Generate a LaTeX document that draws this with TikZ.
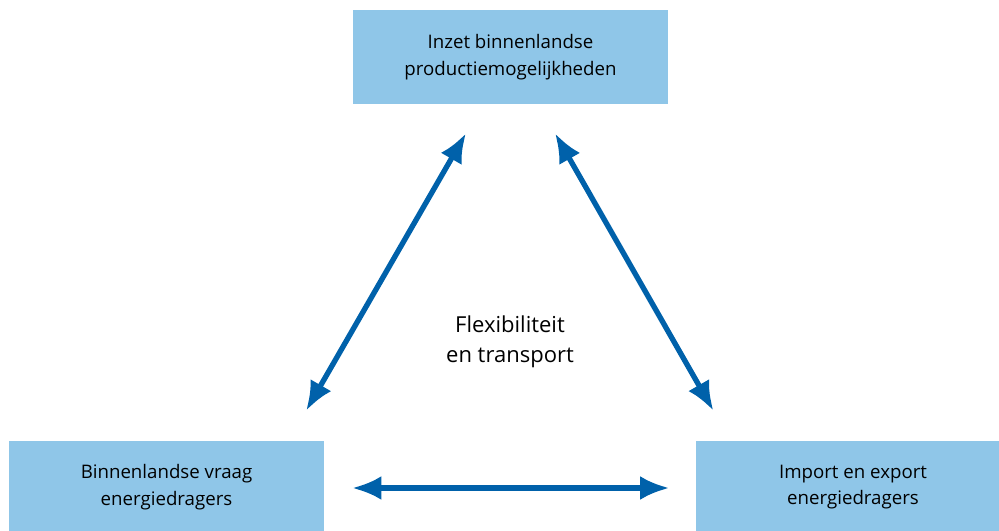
\documentclass[tikz,border=0pt]{standalone}
\usepackage{fontspec}
\setmainfont{Open Sans}
\usetikzlibrary{arrows.meta,calc}
\definecolor{boxblue}{HTML}{8FC6E8}
\definecolor{arrowblue}{HTML}{0061AA}

\begin{document}
\begin{tikzpicture}[x=0.75pt,y=-0.75pt,
  box/.style={fill=boxblue,minimum width=236pt,minimum height=70.5pt,inner sep=0pt,align=center,font=\fontsize{14}{20}\selectfont},
  link/.style={{Latex[length=22pt,width=18pt]}-{Latex[length=22pt,width=18pt]},line width=4pt,arrowblue}]
  \path[use as bounding box,clip] (0,0) rectangle (999,531);

  \node[box] (top) at (510.5,57) {Inzet binnenlandse\\productiemogelijkheden};
  \node[box,minimum height=69pt] (lbox) at (166.5,487) {Binnenlandse vraag\\energiedragers};
  \node[box,minimum height=69pt] (rbox) at (853,487) {Import en export\\energiedragers};
  \node[font=\fontsize{16.5}{22.5}\selectfont,align=center] (flex) at (510,342) {Flexibiliteit\\en transport};

  \draw[link] ($(top.south)+(-44.5,29)$) -- ($(lbox.north east)+(-18,-30)$);
  \draw[link] ($(top.south)+(44.5,29)$) -- ($(rbox.north west)+(18,-30)$);
  \draw[link] ($(lbox.east)+(28,1)$) -- ($(rbox.west)+(-26,1)$);
\end{tikzpicture}
\end{document}
